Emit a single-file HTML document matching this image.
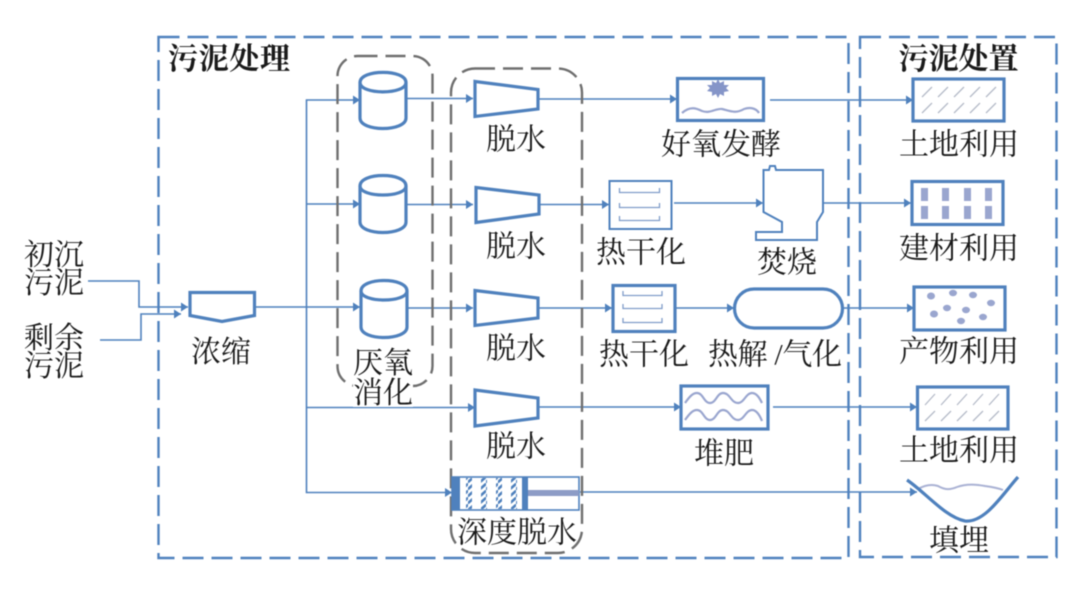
<!DOCTYPE html>
<html lang="zh">
<head>
<meta charset="utf-8">
<style>
html,body{margin:0;padding:0;background:#fff;width:1080px;height:595px;overflow:hidden}
svg{display:block;filter:blur(.4px)}
text{font-family:"Liberation Serif","Noto Serif CJK SC",serif;font-size:30px;fill:#1a1a1a;text-anchor:middle}
.b{font-weight:700;font-size:30px}
.l{fill:none;stroke:#4f81bd;stroke-width:1.6}
.s{fill:none;stroke:#4f81bd;stroke-width:3.2}
.t{fill:none;stroke:#4f81bd;stroke-width:2}
.w{fill:none;stroke:#9aa6cf;stroke-width:2.2}
.h{fill:none;stroke:#b5bbc8;stroke-width:1.3}
.d{fill:#9aa6cf}
</style>
</head>
<body>
<svg width="1080" height="595" viewBox="0 0 1080 595" xmlns="http://www.w3.org/2000/svg">
<defs>
<marker id="a" markerUnits="userSpaceOnUse" markerWidth="8" markerHeight="9" refX="7" refY="4.500" orient="auto"><path d="M0 0L7 4.500L0 9Z" fill="#4f81bd"/></marker>
<pattern id="hat" width="6" height="7" patternUnits="userSpaceOnUse"><rect width="6" height="7" fill="#fff"/><path d="M-1 7L7 0" stroke="#4f81bd" stroke-width="2.6"/></pattern>
</defs>

<!-- outer dashed frames -->
<rect x="158.500" y="37" width="690" height="521" fill="none" stroke="#4f81bd" stroke-width="2.400" stroke-dasharray="21 8"/>
<rect x="860" y="37" width="196.500" height="520" fill="none" stroke="#4f81bd" stroke-width="2.400" stroke-dasharray="21 8"/>

<!-- connectors -->
<g class="l">
<path d="M88 281H139V307H188" marker-end="url(#a)"/>
<path d="M100 340H141V314H181" marker-end="url(#a)"/>
<path d="M255 307H360" marker-end="url(#a)"/>
<path d="M306.500 307V100H360" marker-end="url(#a)"/>
<path d="M306.500 204H360" marker-end="url(#a)"/>
<path d="M306.500 307V492.500H452" marker-end="url(#a)"/>
<path d="M306.500 407.500H475" marker-end="url(#a)"/>
<path d="M406 98.500H473" marker-end="url(#a)"/>
<path d="M406 204.500H473" marker-end="url(#a)"/>
<path d="M406 308H473" marker-end="url(#a)"/>
<path d="M538 99H677" marker-end="url(#a)"/>
<path d="M540 204.500H609" marker-end="url(#a)"/>
<path d="M674 203H763" marker-end="url(#a)"/>
<path d="M538 308H612" marker-end="url(#a)"/>
<path d="M675 308H734" marker-end="url(#a)"/>
<path d="M538 407H681" marker-end="url(#a)"/>
<path d="M770 100H913" marker-end="url(#a)"/>
<path d="M823 203H911" marker-end="url(#a)"/>
<path d="M842 308H914" marker-end="url(#a)"/>
<path d="M773 407H917" marker-end="url(#a)"/>
<path d="M580 492H917" marker-end="url(#a)"/>
</g>

<!-- gray dashed groups -->
<rect x="337.500" y="56" width="95" height="330" rx="20" fill="none" stroke="#6f6f6f" stroke-width="2.400" stroke-dasharray="20 8"/>
<rect x="451" y="68.500" width="131" height="484.500" rx="24" fill="none" stroke="#6f6f6f" stroke-width="2.400" stroke-dasharray="20 8"/>

<!-- thickener -->
<path class="s" fill="#fff" d="M190 292.500H254.500V315.500L222 321.500L190 315.500Z"/>

<!-- digesters -->
<g class="s">
<path d="M360 82.500C360 69 406 69 406 82.500V118C406 132 360 132 360 118Z" fill="#fff"/><path d="M360 82.500C360 95 406 95 406 82.500"/>
<path d="M360 186C360 172 406 172 406 186V222C406 236 360 236 360 222Z" fill="#fff"/><path d="M360 186C360 198 406 198 406 186"/>
<path d="M361 291C361 277 407 277 407 291V327C407 341 361 341 361 327Z" fill="#fff"/><path d="M361 291C361 303 407 303 407 291"/>
</g>

<!-- dewatering trapezoids -->
<g class="s">
<path fill="#fff" d="M475 81.500L538 89.500V109L475 116.500Z"/>
<path fill="#fff" d="M476 187.500L539 195V214L476 222.500Z"/>
<path fill="#fff" d="M475 290.500L538 298V318L475 325.500Z"/>
<path fill="#fff" d="M475 390L538 398V418L475 426Z"/>
</g>

<!-- aerobic fermentation -->
<rect class="s" x="677.500" y="78.500" width="86" height="42" fill="#fff"/>
<path d="M718 79L720 83L724 81L724 85L729 85L726 88L729 91L724 92L724 96L720 94L718 98L716 94L712 96L712 92L707 91L710 88L707 85L712 85L712 81L716 83Z" fill="#8595c8"/>
<path class="w" d="M682 113C690 106 696 108 702 111C710 114 716 108 722 109C730 111 736 114 744 109C750 107 756 108 759 113"/>

<!-- dryer 1 -->
<rect class="t" x="609.500" y="181" width="62" height="48" fill="#fff"/>
<g fill="none" stroke="#7f9cc9" stroke-width="1.300">
<path d="M619.500 188V192.500H659.500V188"/><path d="M619.500 203V207.500H659.500V203"/><path d="M619.500 216V220.500H659.500V216"/>
</g>

<!-- furnace -->
<path class="t" fill="#fff" d="M763.500 170H769L770 166H775L776 170H823V212L817 222V240H756V232H782V222L763.500 212Z"/>

<!-- dryer 2 -->
<rect class="s" x="613" y="285.500" width="62" height="46" fill="#fff"/>
<g fill="none" stroke="#7f9cc9" stroke-width="1.300">
<path d="M623 291V295.500H662V291"/><path d="M623 304V308.500H662V304"/><path d="M623 318V322.500H662V318"/>
</g>

<!-- pyrolysis -->
<rect class="s" x="734.500" y="289" width="108" height="39" rx="19.500" fill="#fff"/>

<!-- compost -->
<rect class="s" x="681" y="386" width="87" height="43" fill="#fff"/>
<path class="w" d="M685 403C690 396 693 393 697 393C703 393 704 403 710 403C716 403 717 393 723 393C730 393 731 403 738 403C744 403 746 393 752 393C757 393 760 399 762 403"/>
<path class="w" d="M685 420C690 413 693 410 697 410C703 410 704 420 710 420C716 420 717 410 723 410C730 410 731 420 738 420C744 420 746 410 752 410C757 410 760 416 762 421"/>

<!-- land 1 -->
<rect class="s" x="913" y="79" width="91" height="42" fill="#fff"/>
<g class="h">
<path d="M922 97L932 87M938 97L948 87M954 97L964 87M970 97L980 87M986 97L996 87"/>
<path d="M922 113L932 103M938 113L948 103M954 113L964 103M970 113L980 103M986 113L996 103"/>
</g>

<!-- building -->
<rect class="s" x="912" y="181.500" width="91" height="43" fill="#fff"/>
<g class="d">
<rect x="921" y="188" width="7" height="13"/><rect x="942" y="188" width="7" height="13"/><rect x="964" y="188" width="7" height="13"/><rect x="985" y="188" width="7" height="13"/>
<rect x="921" y="206" width="7" height="13"/><rect x="942" y="206" width="7" height="13"/><rect x="964" y="206" width="7" height="13"/><rect x="985" y="206" width="7" height="13"/>
</g>

<!-- product -->
<rect class="s" x="914" y="287" width="91" height="43" fill="#fff"/>
<g class="d">
<ellipse cx="931" cy="296" rx="4" ry="3.500"/><ellipse cx="953" cy="293" rx="4" ry="3.200"/><ellipse cx="973" cy="295" rx="4" ry="3.200"/><ellipse cx="991" cy="303" rx="4" ry="3.200"/>
<ellipse cx="934" cy="314" rx="4" ry="3.500"/><ellipse cx="947" cy="308" rx="4" ry="3.200"/><ellipse cx="966" cy="310" rx="4" ry="3.200"/><ellipse cx="961" cy="321" rx="4" ry="3.200"/><ellipse cx="983" cy="317" rx="4" ry="3.200"/>
</g>

<!-- land 2 -->
<rect class="s" x="917.500" y="387" width="90.500" height="42" fill="#fff"/>
<g class="h">
<path d="M925 405L935 394M941 405L951 394M957 405L967 394M973 405L983 394M989 405L999 394"/>
<path d="M925 421L935 411M941 421L951 411M957 421L967 411M973 421L983 411M989 421L999 411"/>
</g>

<!-- deep dewatering -->
<rect x="452" y="477" width="127" height="33" fill="#fff" stroke="#4f81bd" stroke-width="1.600"/>
<rect x="452" y="477" width="8" height="33" fill="#4f81bd"/>
<rect x="522" y="477" width="6" height="33" fill="#4f81bd"/>
<rect x="466" y="478" width="6" height="31" fill="url(#hat)"/>
<rect x="481" y="478" width="6" height="31" fill="url(#hat)"/>
<rect x="496" y="478" width="6" height="31" fill="url(#hat)"/>
<rect x="511" y="478" width="6" height="31" fill="url(#hat)"/>
<rect x="528" y="490" width="51" height="6" fill="#8d9cc6"/>

<!-- landfill -->
<path d="M918 489C925 485 932 484 938 486C945 490 950 490 957 487C965 484 975 484 985 486C992 487 998 488 1003 490" fill="none" stroke="#aab2d4" stroke-width="2"/>
<path d="M907 480C925 492 945 517 965 521C985 523 1002 495 1018 477" fill="none" stroke="#4f81bd" stroke-width="3.200"/>

<!-- white backing under labels crossing the dashed groups -->
<rect x="353" y="377" width="60" height="30" fill="#fff"/>

<!-- labels -->
<text class="b" x="229" y="69" textLength="122" lengthAdjust="spacing">污泥处理</text>
<text class="b" x="958.500" y="69" textLength="120" lengthAdjust="spacing">污泥处置</text>
<text x="54" y="265">初沉</text>
<text x="54" y="293">污泥</text>
<text x="54" y="348">剩余</text>
<text x="54" y="376">污泥</text>
<text x="221" y="362">浓缩</text>
<text x="383" y="373">厌氧</text>
<text x="383" y="403">消化</text>
<text x="516" y="149.500">脱水</text>
<text x="516" y="256.500">脱水</text>
<text x="516" y="358.500">脱水</text>
<text x="516" y="456.500">脱水</text>
<text x="721" y="154.500">好氧发酵</text>
<text x="641" y="262.500">热干化</text>
<text x="787" y="272.500">焚烧</text>
<text x="644" y="364.500">热干化</text>
<text x="775" y="364.500" textLength="134" lengthAdjust="spacing">热解 /气化</text>
<text x="724" y="463.500">堆肥</text>
<text x="517" y="542.500">深度脱水</text>
<text x="959" y="154.500">土地利用</text>
<text x="959" y="258.500">建材利用</text>
<text x="959" y="361.500">产物利用</text>
<text x="959" y="460.500">土地利用</text>
<text x="959" y="550.500">填埋</text>
</svg>
</body>
</html>
